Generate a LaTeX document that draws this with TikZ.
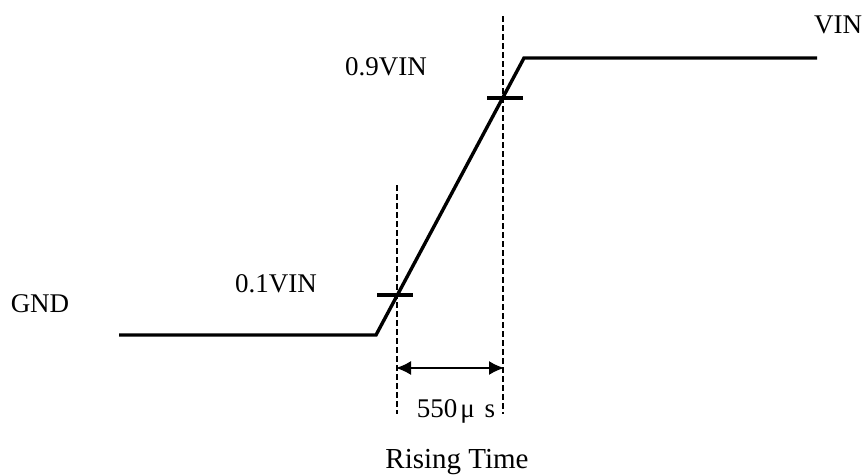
\documentclass[tikz,border=0pt]{standalone}
\usepackage{fontspec}
\setmainfont{Liberation Serif}
\usetikzlibrary{arrows.meta}
\begin{document}
\begin{tikzpicture}[x=1pt,y=-1pt,
  wave/.style={line width=3.4pt,line join=miter},
  guide/.style={line width=1.1pt,dash pattern=on 6pt off 3pt},
  tickmark/.style={line width=3.2pt},
  lbl/.style={font=\fontsize{27}{27}\selectfont,inner sep=0pt,anchor=base},
  dim/.style={line width=1.6pt,{Latex[length=15pt,width=14pt]}-{Latex[length=15pt,width=14pt]}}]
\useasboundingbox (0,0) rectangle (862,474);
\coordinate (s) at (119,335);
\coordinate (a) at (376,335);
\coordinate (b) at (524,58);
\coordinate (e) at (817,58);
\draw[wave] (s) -- (a) -- (b) -- (e);
\coordinate (g1t) at (397,185);
\coordinate (g1b) at (397,414);
\coordinate (g2t) at (503,16);
\coordinate (g2b) at (503,414);
\draw[guide] (g1t) -- (g1b);
\draw[guide] (g2t) -- (g2b);
\coordinate (t1l) at (377,295);
\coordinate (t1r) at (413,295);
\coordinate (t2l) at (487,98);
\coordinate (t2r) at (523,98);
\draw[tickmark] (t1l) -- (t1r);
\draw[tickmark] (t2l) -- (t2r);
\coordinate (d1) at (396,368);
\coordinate (d2) at (504,368);
\draw[dim] (d1) -- (d2);
\node[lbl] (gnd) at (40,312) {GND};
\node[lbl] (v1) at (276,292) {0.1VIN};
\node[lbl] (v9) at (386,75) {0.9VIN};
\node[lbl] (vin) at (838,33) {VIN};
\node[lbl] (tr) at (456,417) {550\hspace{3pt}μ\hspace{10pt}s};
\node[lbl,font=\fontsize{29}{29}\selectfont] (rt) at (457,468) {Rising Time};
\end{tikzpicture}
\end{document}
